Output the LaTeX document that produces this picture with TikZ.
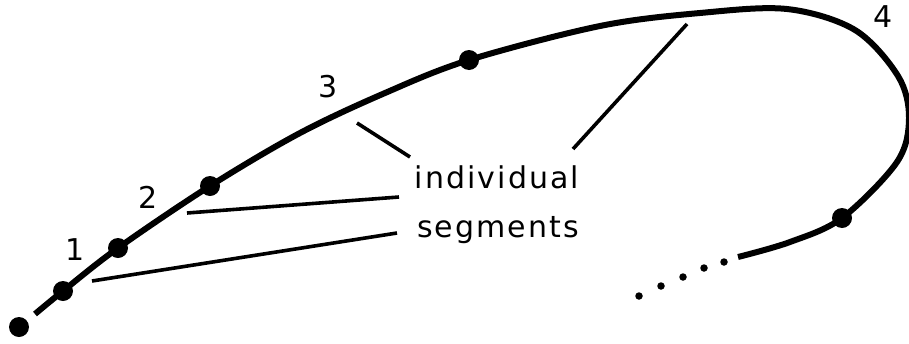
\documentclass[tikz,border=0pt]{standalone}
\usepackage{fontspec}
\setmainfont{DejaVu Sans}[LetterSpace=7]
\begin{document}
\begin{tikzpicture}[x=1pt,y=-1pt,
  curveline/.style={line width=6pt},
  pointer/.style={line width=3.6pt},
  bigdot/.style={circle,fill=black,inner sep=0pt,minimum size=20pt},
  smalldot/.style={circle,fill=black,inner sep=0pt,minimum size=7.5pt},
  lbl/.style={font=\fontsize{30}{30}\selectfont,anchor=base,inner sep=0pt}]
\useasboundingbox (0,0) rectangle (909,343);
% curve points
\coordinate (s0) at (35,314);
\coordinate (d1) at (63,291);
\coordinate (d2) at (118,248);
\coordinate (d3) at (210,186);
\coordinate (d4) at (469,60);
\coordinate (d5) at (842,218);
\coordinate (e0) at (738,257);
\draw[curveline] plot[smooth,tension=0.55] coordinates
  {(35,314) (63,291) (118,248) (210,186) (300,133) (385,93) (469,60) (600,26) (700,13) (787,9) (855,30) (898,76) (909,118) (897,162) (842,218) (790,242) (738,257)};
% dots
\node[bigdot] (p0) at (19,327) {};
\node[bigdot] (p1) at (d1) {};
\node[bigdot] (p2) at (d2) {};
\node[bigdot] (p3) at (d3) {};
\node[bigdot] (p4) at (d4) {};
\node[bigdot] (p5) at (d5) {};
\node[smalldot] (q1) at (724,262) {};
\node[smalldot] (q2) at (704,268) {};
\node[smalldot] (q3) at (683,277) {};
\node[smalldot] (q4) at (661,286) {};
\node[smalldot] (q5) at (639,296) {};
% labels
\node[lbl] (n1) at (75,260) {1};
\node[lbl] (n2) at (148,208) {2};
\node[lbl] (n3) at (328,97) {3};
\node[lbl] (n4) at (883,27) {4};
\node[lbl] (t1) at (497,188) {individual};
\node[lbl] (t2) at (498,237) {segments};
% pointers
\coordinate (a1) at (92,281); \coordinate (b1) at (397,233);
\coordinate (a2) at (187,213); \coordinate (b2) at (399,197);
\coordinate (a3) at (357,123); \coordinate (b3) at (410,157);
\coordinate (a4) at (687,24); \coordinate (b4) at (573,149);
\draw[pointer] (a1) -- (b1);
\draw[pointer] (a2) -- (b2);
\draw[pointer] (a3) -- (b3);
\draw[pointer] (a4) -- (b4);
\end{tikzpicture}
\end{document}
